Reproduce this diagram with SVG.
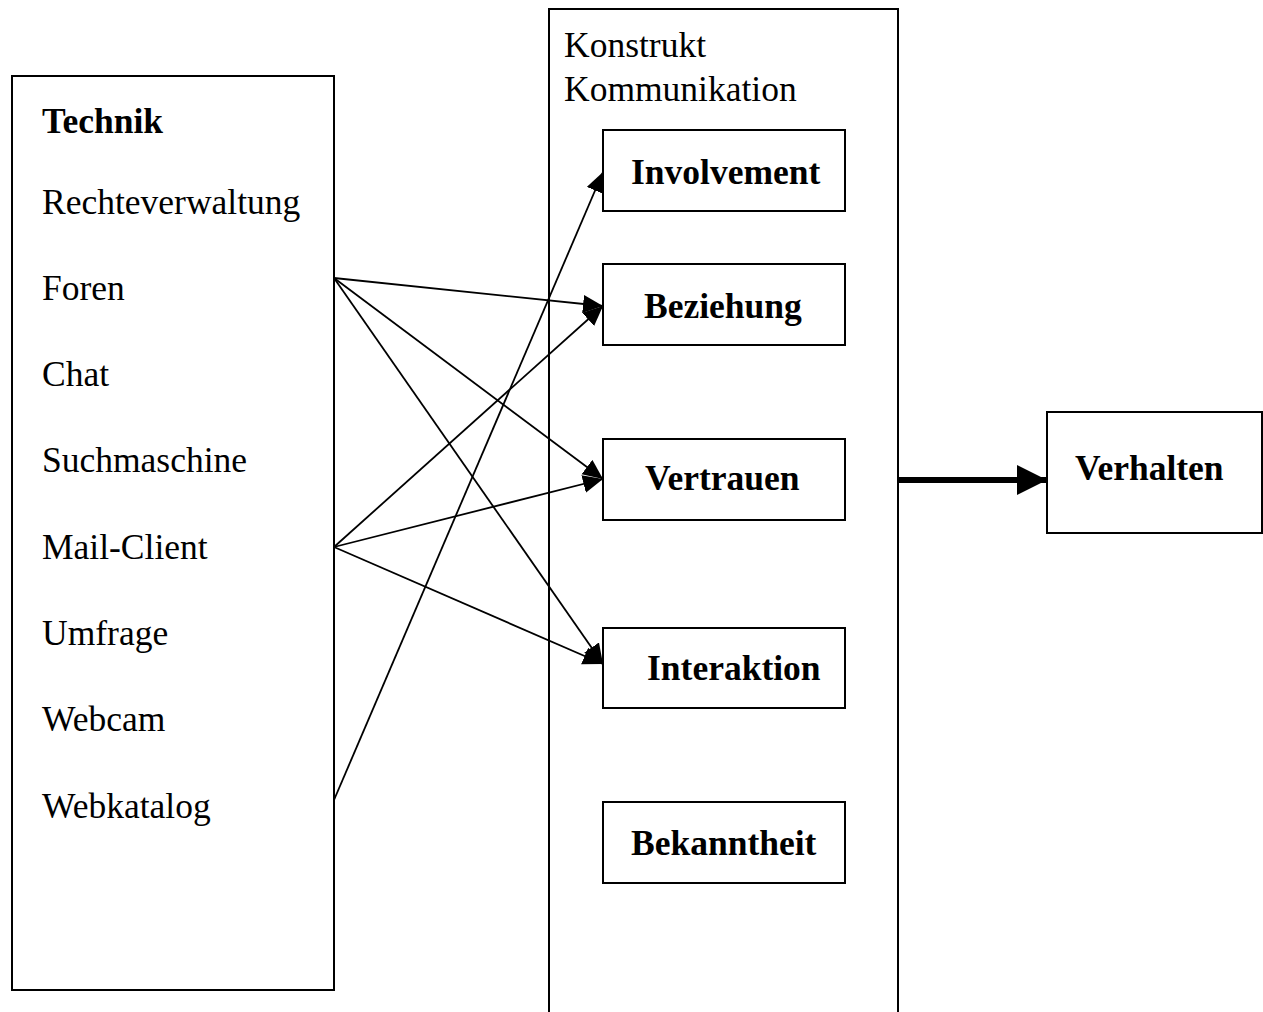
<svg xmlns="http://www.w3.org/2000/svg" width="1263" height="1012" viewBox="0 0 1263 1012">
<style>
.box{fill:#fff;stroke:#000;stroke-width:2}
.t{font-family:"Liberation Serif","Times New Roman",serif;font-size:35.5px;fill:#000}
.b{font-weight:bold}
.c{stroke:#000;stroke-width:1.8;fill:none}
</style>
<defs>
<marker id="ah" markerUnits="userSpaceOnUse" markerWidth="24" markerHeight="20" refX="20" refY="9" orient="auto">
<path d="M0,0 L20,9 L0,18 Z" fill="#000"/>
</marker>
<marker id="ahb" markerUnits="userSpaceOnUse" markerWidth="32" markerHeight="32" refX="30" refY="15" orient="auto">
<path d="M0,0 L30,15 L0,30 Z" fill="#000"/>
</marker>
</defs>
<rect width="1263" height="1012" fill="#fff"/>
<g id="technik">
<rect class="box" x="12" y="76" width="322" height="914"/>
<text class="t b" x="42" y="133">Technik</text>
<text class="t" x="42" y="214">Rechteverwaltung</text>
<text class="t" x="42" y="300">Foren</text>
<text class="t" x="42" y="386">Chat</text>
<text class="t" x="42" y="472">Suchmaschine</text>
<text class="t" x="42" y="559">Mail-Client</text>
<text class="t" x="42" y="645">Umfrage</text>
<text class="t" x="42" y="731">Webcam</text>
<text class="t" x="42" y="818">Webkatalog</text>
</g>
<g id="konstrukt">
<rect class="box" x="549" y="9" width="349" height="1020"/>
<text class="t" x="564" y="57">Konstrukt</text>
<text class="t" x="564" y="101">Kommunikation</text>
</g>
<g id="involvement">
<rect class="box" x="603" y="130" width="242" height="81"/>
<text class="t b" x="631" y="184">Involvement</text>
</g>
<g id="beziehung">
<rect class="box" x="603" y="264" width="242" height="81"/>
<text class="t b" x="644" y="318">Beziehung</text>
</g>
<g id="vertrauen">
<rect class="box" x="603" y="439" width="242" height="81"/>
<text class="t b" x="645" y="490">Vertrauen</text>
</g>
<g id="interaktion">
<rect class="box" x="603" y="628" width="242" height="80"/>
<text class="t b" x="647" y="680">Interaktion</text>
</g>
<g id="bekanntheit">
<rect class="box" x="603" y="802" width="242" height="81"/>
<text class="t b" x="631" y="855">Bekanntheit</text>
</g>
<g id="verhalten">
<rect class="box" x="1047" y="412" width="215" height="121"/>
<text class="t b" x="1075" y="480">Verhalten</text>
</g>
<g id="connectors">
<line class="c" x1="334" y1="278" x2="603" y2="306" marker-end="url(#ah)"/>
<line class="c" x1="334" y1="278" x2="603" y2="479" marker-end="url(#ah)"/>
<line class="c" x1="334" y1="278" x2="603" y2="664" marker-end="url(#ah)"/>
<line class="c" x1="334" y1="547" x2="603" y2="306" marker-end="url(#ah)"/>
<line class="c" x1="334" y1="547" x2="603" y2="479" marker-end="url(#ah)"/>
<line class="c" x1="334" y1="547" x2="603" y2="664" marker-end="url(#ah)"/>
<line class="c" x1="334" y1="800" x2="603" y2="172" marker-end="url(#ah)"/>
<line x1="898" y1="480" x2="1047" y2="480" stroke="#000" stroke-width="6" marker-end="url(#ahb)"/>
</g>
</svg>
